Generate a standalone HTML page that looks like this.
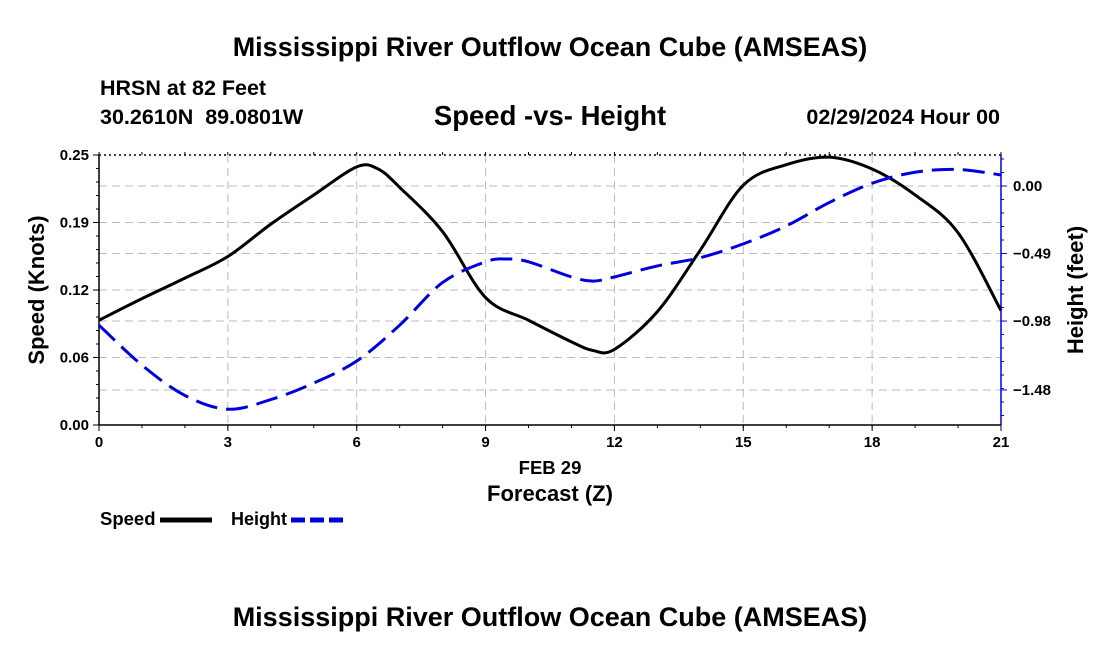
<!DOCTYPE html>
<html><head><meta charset="utf-8"><style>
body{margin:0;background:#fff;width:1100px;height:650px;overflow:hidden;font-family:"Liberation Sans",Arial,sans-serif}
</style></head><body>
<svg id="chart" width="1100" height="650" xmlns="http://www.w3.org/2000/svg" font-family="Liberation Sans, Arial, sans-serif">
<text x="550" y="56" text-anchor="middle" font-size="27" font-weight="bold">Mississippi River Outflow Ocean Cube (AMSEAS)</text>
<text x="100" y="95" font-size="21.5" font-weight="bold">HRSN at 82 Feet</text>
<text x="100" y="124" font-size="21.5" font-weight="bold" xml:space="preserve" style="white-space:pre">30.2610N  89.0801W</text>
<text x="550" y="125" text-anchor="middle" font-size="27.5" font-weight="bold">Speed -vs- Height</text>
<text x="1000" y="124" text-anchor="end" font-size="21.5" font-weight="bold">02/29/2024 Hour 00</text>
<g id="grid"></g>
<g id="axes"></g>
<g id="series"></g>
<text x="550" y="474" text-anchor="middle" font-size="18.5" font-weight="bold">FEB 29</text>
<text x="550" y="501" text-anchor="middle" font-size="22" font-weight="bold">Forecast (Z)</text>
<text x="44" y="290" text-anchor="middle" font-size="22" font-weight="bold" transform="rotate(-90 44 290)">Speed (Knots)</text>
<text x="1083" y="290" text-anchor="middle" font-size="22" font-weight="bold" transform="rotate(-90 1083 290)">Height (feet)</text>
<g>
<text x="100" y="525" font-size="18.5" font-weight="bold">Speed</text>
<line x1="160" y1="520" x2="212" y2="520" stroke="#000" stroke-width="5"/>
<text x="231" y="525" font-size="18" font-weight="bold">Height</text>
<line x1="291" y1="520" x2="343" y2="520" stroke="#0000dd" stroke-width="5" stroke-dasharray="14,5"/>
</g>
<text x="550" y="626" text-anchor="middle" font-size="27" font-weight="bold">Mississippi River Outflow Ocean Cube (AMSEAS)</text>
</svg>
<script>
const hours=[0,1,2,3,4,5,6,6.5,7,8,9,10,11,11.5,12,13,14,15,16,17,18,19,20,21];
const speedValues=[0.097,0.117,0.136,0.156,0.186,0.213,0.239,0.237,0.220,0.179,0.118,0.097,0.077,0.069,0.070,0.105,0.162,0.222,0.241,0.248,0.237,0.213,0.178,0.106];
const heightHours=[0,1,2,3,4,5,6,7,8,9,9.5,10,11,11.5,12,13,14,15,16,17,18,19,20,21];
const heightValues=[-1.01,-1.30,-1.52,-1.62,-1.55,-1.43,-1.27,-1.01,-0.70,-0.55,-0.53,-0.55,-0.66,-0.69,-0.66,-0.58,-0.52,-0.42,-0.29,-0.12,0.02,0.10,0.12,0.08];
const xTicks=[0,3,6,9,12,15,18,21];
const leftTicks=[0,0.0625,0.125,0.1875,0.25];
const leftTickLabels=["0.00","0.06","0.12","0.19","0.25"];
const rightTicks=[0,-0.49,-0.98,-1.48];
const rightTickLabels=["0.00","\u22120.49","\u22120.98","\u22121.48"];
const L=99,R=1001,T=155,B=425;
const NS="http://www.w3.org/2000/svg";
const xs=h=>L+(R-L)*h/21;
const ysL=v=>B-(B-T)*v/0.25;
const ysR=v=>186-v*137.8;
function mk(tag,attrs,parent){const e=document.createElementNS(NS,tag);for(const k in attrs)e.setAttribute(k,attrs[k]);document.getElementById(parent).appendChild(e);return e;}
for(const h of xTicks){if(h>0&&h<21){const g=mk('line',{x1:xs(h),x2:xs(h),y1:T,y2:B,stroke:'#bbb','stroke-dasharray':'8,5'},'grid');

}
const t=mk('text',{x:xs(h),y:B+22,'text-anchor':'middle','font-size':15,'font-weight':'bold'},'axes');t.textContent=h;


mk('line',{x1:xs(h),x2:xs(h),y1:B,y2:B+6,stroke:'#000'},'axes');}
for(let h=0;h<=21;h++){mk('line',{x1:xs(h),x2:xs(h),y1:B,y2:B+3,stroke:'#000'},'axes');mk('line',{x1:xs(h),x2:xs(h),y1:T,y2:T-3,stroke:'#000'},'axes');}
leftTicks.forEach((v,i)=>{const y=ysL(v);
if(i>0&&i<4){const g=mk('line',{x1:L,x2:R,y1:y,y2:y,stroke:'#bbb','stroke-dasharray':'8,5'},'grid');

}
mk('line',{x1:L-6,x2:L,y1:y,y2:y,stroke:'#000'},'axes');
const t=mk('text',{x:L-10,y:y+5,'text-anchor':'end','font-size':15,'font-weight':'bold'},'axes');t.textContent=leftTickLabels[i];

});
for(let k=0;k<=20;k++){const y=T+(B-T)*k/20;mk('line',{x1:L-3,x2:L,y1:y,y2:y,stroke:'#000'},'axes');}
rightTicks.forEach((v,i)=>{const y=ysR(v);
const g=mk('line',{x1:L,x2:R,y1:y,y2:y,stroke:'#bbb','stroke-dasharray':'8,5'},'grid');


mk('line',{x1:R,x2:R+6,y1:y,y2:y,stroke:'#0000dd'},'axes');
const t=mk('text',{x:R+12,y:y+5,'font-size':15,'font-weight':'bold'},'axes');t.textContent=rightTickLabels[i];

});
for(let y=T+4;y<B;y+=13.5)mk('line',{x1:R,x2:R+3,y1:y,y2:y,stroke:'#0000dd'},'axes');
mk('line',{x1:L,x2:L,y1:T,y2:B,stroke:'#000','stroke-width':1.5},'axes');
mk('line',{x1:L,x2:R,y1:B,y2:B,stroke:'#000','stroke-width':1.5},'axes');
mk('line',{x1:L,x2:R,y1:T,y2:T,stroke:'#000','stroke-width':1.5,'stroke-dasharray':'2,3'},'axes');
mk('line',{x1:R,x2:R,y1:T,y2:B,stroke:'#0000dd','stroke-width':1.5},'axes');
function smooth(pts){let d=`M${pts[0][0]},${pts[0][1]}`;for(let i=0;i<pts.length-1;i++){const p0=pts[i-1]||pts[i],p1=pts[i],p2=pts[i+1],p3=pts[i+2]||p2;
d+=` C${p1[0]+(p2[0]-p0[0])/6},${p1[1]+(p2[1]-p0[1])/6} ${p2[0]-(p3[0]-p1[0])/6},${p2[1]-(p3[1]-p1[1])/6} ${p2[0]},${p2[1]}`;}return d;}
const sp=mk('path',{d:smooth(hours.map((h,i)=>[xs(h),ysL(speedValues[i])])),fill:'none',stroke:'#000','stroke-width':3},'series');


const hp=mk('path',{d:smooth(heightHours.map((h,i)=>[xs(h),ysR(heightValues[i])])),fill:'none',stroke:'#0000dd','stroke-width':3,'stroke-dasharray':'22,9'},'series');


</script>
</body></html>
